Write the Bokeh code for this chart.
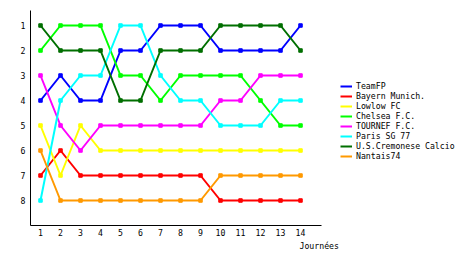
from bokeh.plotting import figure
from bokeh.models import Range1d, FixedTicker, Legend, LegendItem, Title
from bokeh.embed import file_html
from bokeh.resources import INLINE

journees = list(range(1, 15))
teams = ["TeamFP", "Bayern Munich.", "Lowlow FC", "Chelsea F.C.", "TOURNEF F.C.",
         "Paris SG 77", "U.S.Cremonese Calcio", "Nantais74"]
colors = ["#0000FF", "#FF0000", "#FFFF00", "#00FF00", "#FF00FF", "#00FFFF", "#006F00", "#FF9900"]
teamfp = [4, 3, 4, 4, 2, 2, 1, 1, 1, 2, 2, 2, 2, 1]
bayern = [7, 6, 7, 7, 7, 7, 7, 7, 7, 8, 8, 8, 8, 8]
lowlow = [5, 7, 5, 6, 6, 6, 6, 6, 6, 6, 6, 6, 6, 6]
chelsea = [2, 1, 1, 1, 3, 3, 4, 3, 3, 3, 3, 4, 5, 5]
tournef = [3, 5, 6, 5, 5, 5, 5, 5, 5, 4, 4, 3, 3, 3]
paris = [8, 4, 3, 3, 1, 1, 3, 4, 4, 5, 5, 5, 4, 4]
cremonese = [1, 2, 2, 2, 4, 4, 2, 2, 2, 1, 1, 1, 1, 2]
nantais = [6, 8, 8, 8, 8, 8, 8, 8, 8, 7, 7, 7, 7, 7]
series = [teamfp, bayern, lowlow, chelsea, tournef, paris, cremonese, nantais]
yticks = [1, 2, 3, 4, 5, 6, 7, 8]
xlabel = "Journées"

FONT = "DejaVu Sans Mono"
FS = "8.2px"

p = figure(width=460, height=255, output_backend="svg", toolbar_location=None,
           x_range=Range1d(0.5, 22.0), y_range=Range1d(9.0, 0.4),
           min_border_left=30, min_border_right=0, min_border_top=10, min_border_bottom=30)
p.outline_line_color = None
p.grid.visible = False
p.background_fill_color = "white"
p.border_fill_color = "white"

for ax in (p.xaxis[0], p.yaxis[0]):
    ax.major_tick_in = 0
    ax.major_tick_out = 0
    ax.minor_tick_in = 0
    ax.minor_tick_out = 0
    ax.axis_line_color = "black"
    ax.axis_line_width = 1
    ax.major_label_text_font = FONT
    ax.major_label_text_font_size = FS
    ax.major_label_text_color = "black"

p.xaxis.ticker = FixedTicker(ticks=journees)
p.xaxis.bounds = (0.5, 15.05)
p.xaxis.major_label_standoff = 3
p.yaxis.ticker = FixedTicker(ticks=yticks)
p.yaxis.major_label_standoff = 5

items = []
for name, col, vals in zip(teams, colors, series):
    r = p.line(journees, vals, line_color=col, line_width=2)
    p.scatter(journees, vals, marker="square", size=3.5, fill_color=col, line_color=col)
    items.append(LegendItem(label=name, renderers=[r]))

legend = Legend(items=items, location=(310, 64), padding=0, margin=0, spacing=0,
                glyph_width=12, glyph_height=10, label_height=10, label_standoff=4,
                label_text_font=FONT, label_text_font_size=FS, label_text_color="black",
                border_line_alpha=0, background_fill_alpha=0)
p.add_layout(legend)

p.add_layout(Title(text=xlabel, align="left", offset=269, standoff=0,
                   text_font=FONT, text_font_size=FS, text_font_style="normal",
                   text_color="black"), "below")

open("out.html", "w").write(file_html(p, INLINE))
